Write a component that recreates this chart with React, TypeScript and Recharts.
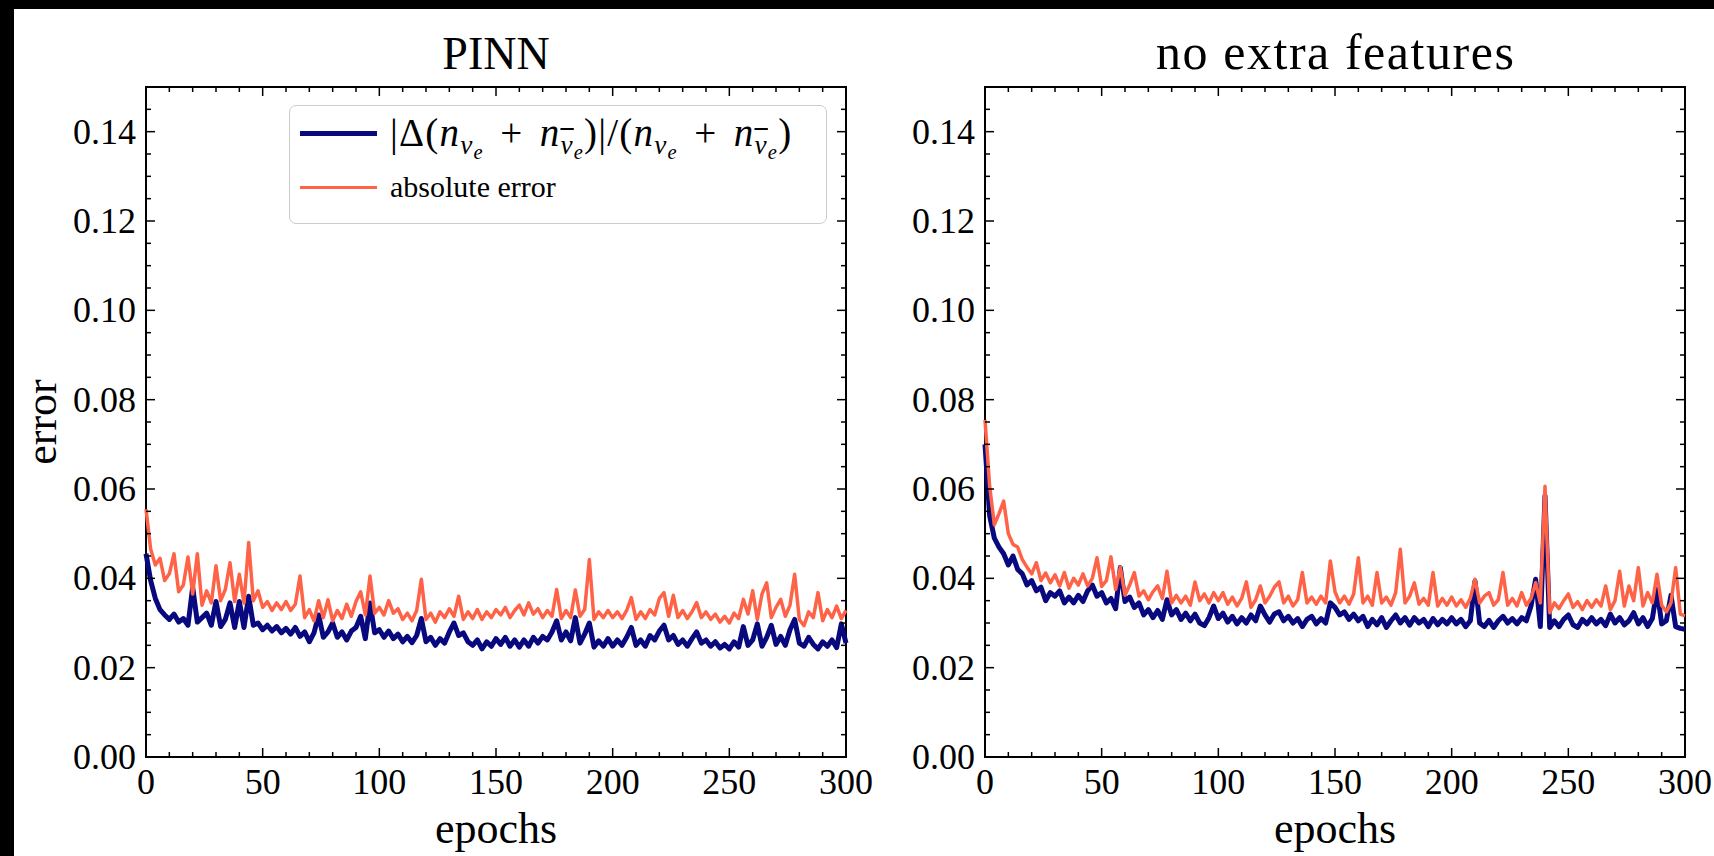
import { LineChart, Line, XAxis, YAxis, Legend, ReferenceArea } from "recharts";

// epochs sampled every 2
const epochs = [
  0, 2, 4, 6, 8, 10, 12, 14, 16, 18,
  20, 22, 24, 26, 28, 30, 32, 34, 36, 38,
  40, 42, 44, 46, 48, 50, 52, 54, 56, 58,
  60, 62, 64, 66, 68, 70, 72, 74, 76, 78,
  80, 82, 84, 86, 88, 90, 92, 94, 96, 98,
  100, 102, 104, 106, 108, 110, 112, 114, 116, 118,
  120, 122, 124, 126, 128, 130, 132, 134, 136, 138,
  140, 142, 144, 146, 148, 150, 152, 154, 156, 158,
  160, 162, 164, 166, 168, 170, 172, 174, 176, 178,
  180, 182, 184, 186, 188, 190, 192, 194, 196, 198,
  200, 202, 204, 206, 208, 210, 212, 214, 216, 218,
  220, 222, 224, 226, 228, 230, 232, 234, 236, 238,
  240, 242, 244, 246, 248, 250, 252, 254, 256, 258,
  260, 262, 264, 266, 268, 270, 272, 274, 276, 278,
  280, 282, 284, 286, 288, 290, 292, 294, 296, 298,
  300,
];

// PINN: relative number error (navy)
const pinnRel = [
  0.0455, 0.0395, 0.0355, 0.033, 0.0318, 0.0308, 0.032, 0.0302, 0.031, 0.0295,
  0.038, 0.0302, 0.0312, 0.0322, 0.0295, 0.0348, 0.0292, 0.0308, 0.0345, 0.029,
  0.0348, 0.029, 0.036, 0.0295, 0.03, 0.0285, 0.0295, 0.0282, 0.0292, 0.0278,
  0.0288, 0.0275, 0.029, 0.027, 0.028, 0.0258, 0.0278, 0.0318, 0.0268, 0.028,
  0.03, 0.0268, 0.028, 0.0262, 0.0282, 0.029, 0.0315, 0.0265, 0.0345, 0.0278,
  0.0285, 0.0268, 0.0282, 0.0265, 0.0275, 0.0258, 0.027, 0.0256, 0.0272, 0.031,
  0.0258, 0.0268, 0.025, 0.0265, 0.0255, 0.028, 0.03, 0.0272, 0.0278, 0.0258,
  0.025, 0.0262, 0.0242, 0.0258, 0.0248, 0.0265, 0.0252, 0.0268, 0.0248, 0.0262,
  0.0246, 0.0262, 0.0248, 0.0268, 0.0255, 0.027, 0.0262, 0.028, 0.0305, 0.0262,
  0.028, 0.026, 0.0312, 0.0255, 0.0275, 0.03, 0.0246, 0.026, 0.0248, 0.0265,
  0.0248, 0.0262, 0.025, 0.0268, 0.029, 0.025, 0.0262, 0.0248, 0.0272, 0.0262,
  0.0282, 0.0295, 0.0262, 0.0272, 0.0252, 0.0262, 0.0248, 0.0265, 0.028, 0.0255,
  0.0262, 0.0248, 0.0258, 0.0244, 0.0252, 0.0242, 0.0258, 0.0246, 0.0292, 0.025,
  0.0262, 0.0298, 0.0248, 0.0268, 0.0295, 0.0252, 0.027, 0.025, 0.0285, 0.0308,
  0.0255, 0.0248, 0.0268, 0.0252, 0.0242, 0.0258, 0.0248, 0.0262, 0.0245, 0.0298,
  0.0255,
];

// PINN: absolute error (tomato)
const pinnAbs = [
  0.0555, 0.0465, 0.043, 0.0445, 0.0395, 0.041, 0.0455, 0.037, 0.0385, 0.0448,
  0.0365, 0.0455, 0.034, 0.0372, 0.0345, 0.0428, 0.035, 0.0375, 0.0435, 0.0348,
  0.0409, 0.0345, 0.048, 0.035, 0.0372, 0.0335, 0.0348, 0.0328, 0.0345, 0.033,
  0.0348, 0.0328, 0.0342, 0.0405, 0.0312, 0.033, 0.0305, 0.035, 0.0312, 0.0352,
  0.0305, 0.0328, 0.031, 0.0342, 0.0315, 0.0348, 0.037, 0.0318, 0.0405, 0.0322,
  0.0335, 0.0318, 0.035, 0.0322, 0.0332, 0.0308, 0.0322, 0.0305, 0.0328, 0.0398,
  0.0308, 0.0322, 0.0302, 0.0325, 0.0312, 0.0332, 0.0315, 0.036, 0.0308, 0.0325,
  0.031, 0.033, 0.0308, 0.0325, 0.0312, 0.033, 0.0318, 0.0335, 0.0312, 0.0328,
  0.034, 0.0318, 0.0345, 0.032, 0.0332, 0.0312, 0.0328, 0.0315, 0.0375, 0.031,
  0.0328, 0.0312, 0.0374, 0.0315, 0.033, 0.0442, 0.0308, 0.0325, 0.0312, 0.0328,
  0.0312, 0.0325, 0.031, 0.0328, 0.0357, 0.0308, 0.0325, 0.031, 0.033, 0.0318,
  0.0355, 0.0368, 0.0315, 0.0362, 0.0312, 0.0328, 0.031, 0.0325, 0.0346, 0.0312,
  0.0325, 0.0308, 0.032, 0.0302, 0.0315, 0.03, 0.0322, 0.031, 0.0353, 0.032,
  0.0372, 0.0308, 0.0365, 0.039, 0.0312, 0.0335, 0.0353, 0.0315, 0.034, 0.0409,
  0.0308, 0.0294, 0.0325, 0.0312, 0.0368, 0.0305, 0.033, 0.0312, 0.0338, 0.031,
  0.0328,
];

// no extra features: relative number error (navy)
const plainRel = [
  0.07, 0.054, 0.049, 0.047, 0.0455, 0.043, 0.045, 0.042, 0.041, 0.0385,
  0.0395, 0.0372, 0.038, 0.035, 0.0368, 0.036, 0.0372, 0.0345, 0.0358, 0.0345,
  0.0362, 0.0348, 0.0372, 0.0385, 0.036, 0.0368, 0.0345, 0.0355, 0.0332, 0.0424,
  0.0348, 0.0358, 0.0335, 0.0345, 0.0318, 0.033, 0.0312, 0.0328, 0.0308, 0.0352,
  0.0318, 0.033, 0.0308, 0.0322, 0.0305, 0.032, 0.03, 0.0294, 0.0312, 0.0338,
  0.031, 0.0322, 0.0302, 0.0315, 0.0298, 0.0312, 0.03, 0.0318, 0.0305, 0.0338,
  0.0318, 0.0302, 0.032, 0.0325, 0.0305, 0.0315, 0.03, 0.031, 0.0292, 0.0308,
  0.0315, 0.0298, 0.031, 0.03, 0.0345, 0.0335, 0.0318, 0.0325, 0.0308, 0.032,
  0.0305, 0.0315, 0.0292, 0.0308, 0.0296, 0.0312, 0.029, 0.0305, 0.0318, 0.03,
  0.0312, 0.0295, 0.0312, 0.03, 0.0308, 0.0292, 0.031, 0.0296, 0.0308, 0.0298,
  0.0312, 0.0298, 0.0308, 0.0292, 0.0305, 0.0394, 0.03, 0.0292, 0.0306, 0.029,
  0.0305, 0.0315, 0.03, 0.031, 0.0298, 0.0312, 0.0305, 0.0338, 0.0398, 0.0292,
  0.0585, 0.029, 0.0305, 0.0292, 0.0308, 0.0318, 0.0296, 0.029, 0.0308, 0.0298,
  0.0312, 0.0298, 0.0308, 0.0294, 0.032, 0.03, 0.0312, 0.0296, 0.0305, 0.0323,
  0.0298, 0.0312, 0.0292, 0.031, 0.0375, 0.0298, 0.0305, 0.0362, 0.0292, 0.0288,
  0.0286,
];

// no extra features: absolute error (tomato)
const plainAbs = [
  0.0755, 0.0606, 0.052, 0.0545, 0.0573, 0.05, 0.0476, 0.047, 0.0442, 0.0425,
  0.041, 0.0435, 0.0395, 0.0412, 0.039, 0.0408, 0.0383, 0.0413, 0.0378, 0.04,
  0.0385, 0.041, 0.0383, 0.04, 0.0446, 0.0382, 0.0395, 0.0448, 0.0375, 0.0425,
  0.0362, 0.0385, 0.0413, 0.036, 0.0372, 0.0352, 0.037, 0.0383, 0.0355, 0.0416,
  0.0345, 0.0362, 0.0345, 0.036, 0.034, 0.0392, 0.035, 0.0365, 0.0345, 0.0368,
  0.035, 0.0368, 0.0342, 0.0358, 0.0338, 0.0355, 0.0392, 0.0335, 0.0352, 0.0383,
  0.0345, 0.036, 0.038, 0.0392, 0.0345, 0.036, 0.0338, 0.0352, 0.0413, 0.0345,
  0.0358, 0.0342, 0.036, 0.0345, 0.0439, 0.037, 0.0345, 0.036, 0.0342, 0.0365,
  0.0446, 0.0345, 0.036, 0.034, 0.0413, 0.0345, 0.0358, 0.034, 0.0368, 0.0465,
  0.0345, 0.036, 0.039, 0.0342, 0.0355, 0.034, 0.0413, 0.0338, 0.0355, 0.034,
  0.0358, 0.0338, 0.0352, 0.0335, 0.0355, 0.0398, 0.0345, 0.036, 0.0368, 0.034,
  0.0352, 0.0413, 0.034, 0.0355, 0.0338, 0.0368, 0.034, 0.0355, 0.039, 0.0345,
  0.0606, 0.0323, 0.0345, 0.0332, 0.035, 0.0365, 0.0335, 0.0348, 0.033, 0.035,
  0.0335, 0.0352, 0.0338, 0.0383, 0.033, 0.035, 0.0416, 0.0338, 0.0383, 0.035,
  0.0424, 0.0338, 0.0368, 0.0345, 0.0409, 0.034, 0.0325, 0.0345, 0.0424, 0.032,
  0.0316,
];

const xTicks = [
  0, 10, 20, 30, 40, 50, 60, 70, 80, 90, 100, 110, 120, 130, 140, 150,
  160, 170, 180, 190, 200, 210, 220, 230, 240, 250, 260, 270, 280, 290, 300,
];
const yTicks = [
  0, 0.005, 0.01, 0.015, 0.02, 0.025, 0.03, 0.035, 0.04, 0.045, 0.05, 0.055,
  0.06, 0.065, 0.07, 0.075, 0.08, 0.085, 0.09, 0.095, 0.1, 0.105, 0.11, 0.115,
  0.12, 0.125, 0.13, 0.135, 0.14, 0.145, 0.15,
];

const NAVY = "#08087f";
const TOMATO = "#ff6347";
const SERIF = "'Liberation Serif', 'Times New Roman', serif";
const PLOT_TOP = 87;
const CENTER_Y = 422;

function makeXTick(top: number) {
  return (props: any) => {
    const { x, y, payload } = props;
    const v = payload.value as number;
    const major = v % 50 === 0;
    const len = major ? 9 : 5;
    return (
      <g>
        <line x1={x} x2={x} y1={y} y2={y - len} stroke="#000" strokeWidth={1.5} />
        <line x1={x} x2={x} y1={top} y2={top + len} stroke="#000" strokeWidth={1.5} />
        {major && (
          <text x={x} y={y + 37} textAnchor="middle" fontFamily={SERIF} fontSize={36} fill="#000">
            {v}
          </text>
        )}
      </g>
    );
  };
}

function makeYTick(right: number) {
  return (props: any) => {
    const { x, y, payload } = props;
    const v = payload.value as number;
    const major = Math.round(v * 1000) % 20 === 0;
    const len = major ? 9 : 5;
    return (
      <g>
        <line x1={x} x2={x + len} y1={y} y2={y} stroke="#000" strokeWidth={1.5} />
        <line x1={right} x2={right - len} y1={y} y2={y} stroke="#000" strokeWidth={1.5} />
        {major && (
          <text x={x - 10} y={y + 12} textAnchor="end" fontFamily={SERIF} fontSize={36} fill="#000">
            {v.toFixed(2)}
          </text>
        )}
      </g>
    );
  };
}

const sub = { fontSize: "0.7em", verticalAlign: "-0.3em" };
const subsub = { fontSize: "0.75em", verticalAlign: "-0.22em" };

function NuE({ bar }: { bar?: boolean }) {
  return (
    <span style={sub}>
      <i style={bar ? { textDecoration: "overline" } : undefined}>ν</i>
      <span style={subsub}>
        <i>e</i>
      </span>
    </span>
  );
}

function Plus() {
  return <span style={{ margin: "0 0.42em" }}>+</span>;
}

function LegendBox() {
  return (
    <div
      style={{
        position: "relative",
        width: 538,
        height: 119,
        boxSizing: "border-box",
        border: "1.5px solid #cccccc",
        borderRadius: 7,
        background: "rgba(255,255,255,0.85)",
        fontFamily: SERIF,
        color: "#000",
      }}
    >
      <div style={{ position: "absolute", left: 10, top: 24.5, width: 77, height: 5, background: NAVY }} />
      <div
        style={{
          position: "absolute",
          left: 100,
          top: 4,
          fontSize: 39,
          lineHeight: "46px",
          letterSpacing: "1.2px",
          whiteSpace: "nowrap",
        }}
      >
        |Δ(<i>n</i>
        <NuE />
        <Plus />
        <i>n</i>
        <NuE bar />
        )|/(<i>n</i>
        <NuE />
        <Plus />
        <i>n</i>
        <NuE bar />)
      </div>
      <div style={{ position: "absolute", left: 10, top: 79.5, width: 77, height: 3.5, background: TOMATO }} />
      <div style={{ position: "absolute", left: 100, top: 61, fontSize: 30, lineHeight: "40px", whiteSpace: "nowrap" }}>
        absolute error
      </div>
    </div>
  );
}

type PanelProps = {
  left: number;
  width: number;
  axisWidth: number;
  rightMargin: number;
  title: string;
  titleSize: number;
  titleLength?: number;
  rel: number[];
  abs: number[];
  withLegend?: boolean;
  withYLabel?: boolean;
};

function Panel({
  left,
  width,
  axisWidth,
  rightMargin,
  title,
  titleSize,
  titleLength,
  rel,
  abs,
  withLegend,
  withYLabel,
}: PanelProps) {
  const rows = epochs.map((epoch, i) => ({ epoch, rel: rel[i], abs: abs[i] }));
  const plotRight = width - rightMargin;
  const midX = (axisWidth + plotRight) / 2;
  return (
    <div style={{ position: "absolute", left, top: 0 }}>
      <LineChart width={width} height={856} data={rows} margin={{ top: PLOT_TOP, right: rightMargin, bottom: 0, left: 0 }}>
        <XAxis
          dataKey="epoch"
          type="number"
          domain={[0, 300]}
          ticks={xTicks}
          interval={0}
          tickSize={0}
          tickMargin={0}
          axisLine={false}
          tickLine={false}
          height={99}
          tick={makeXTick(PLOT_TOP)}
          label={{
            value: "epochs",
            content: () => (
              <text x={midX} y={843} textAnchor="middle" fontFamily={SERIF} fontSize={44} fill="#000">
                epochs
              </text>
            ),
          }}
        />
        <YAxis
          type="number"
          domain={[0, 0.15]}
          ticks={yTicks}
          interval={0}
          tickSize={0}
          tickMargin={0}
          axisLine={false}
          tickLine={false}
          width={axisWidth}
          tick={makeYTick(plotRight)}
          label={
            withYLabel
              ? {
                  value: "error",
                  content: () => (
                    <text
                      x={56}
                      y={CENTER_Y}
                      transform={`rotate(-90, 56, ${CENTER_Y})`}
                      textAnchor="middle"
                      fontFamily={SERIF}
                      fontSize={44}
                      fill="#000"
                    >
                      error
                    </text>
                  ),
                }
              : undefined
          }
        />
        <Line
          type="linear"
          dataKey="rel"
          name="relative"
          stroke={NAVY}
          strokeWidth={5}
          strokeLinejoin="round"
          dot={false}
          activeDot={false}
          isAnimationActive={false}
        />
        <Line
          type="linear"
          dataKey="abs"
          name="absolute error"
          stroke={TOMATO}
          strokeWidth={3.5}
          strokeLinejoin="round"
          dot={false}
          activeDot={false}
          isAnimationActive={false}
        />
        <ReferenceArea
          x1={0}
          x2={300}
          y1={0}
          y2={0.15}
          fill="none"
          fillOpacity={0}
          stroke="#000"
          strokeWidth={2}
          ifOverflow="visible"
          label={{
            value: title,
            content: () => (
              <text
                x={midX}
                y={69}
                textAnchor="middle"
                fontFamily={SERIF}
                fontSize={titleSize}
                fill="#000"
                textLength={titleLength}
                lengthAdjust="spacing"
              >
                {title}
              </text>
            ),
          }}
        />
        {withLegend && (
          <Legend
            layout="vertical"
            align="center"
            verticalAlign="middle"
            wrapperStyle={{ left: 289, top: 105, width: 538, height: 119 }}
            content={() => <LegendBox />}
          />
        )}
      </LineChart>
    </div>
  );
}

export default function App() {
  return (
    <div style={{ position: "fixed", left: 0, top: 0, width: 1714, height: 856, background: "#000", overflow: "hidden" }}>
      <div style={{ position: "absolute", left: 14, top: 9, right: 0, bottom: 0, background: "#fff" }} />
      <Panel
        left={0}
        width={900}
        axisWidth={146}
        rightMargin={54}
        title="PINN"
        titleSize={46}
        rel={pinnRel}
        abs={pinnAbs}
        withLegend
        withYLabel
      />
      <Panel
        left={860}
        width={854}
        axisWidth={125}
        rightMargin={29}
        title="no extra features"
        titleSize={50}
        titleLength={358}
        rel={plainRel}
        abs={plainAbs}
      />
    </div>
  );
}
